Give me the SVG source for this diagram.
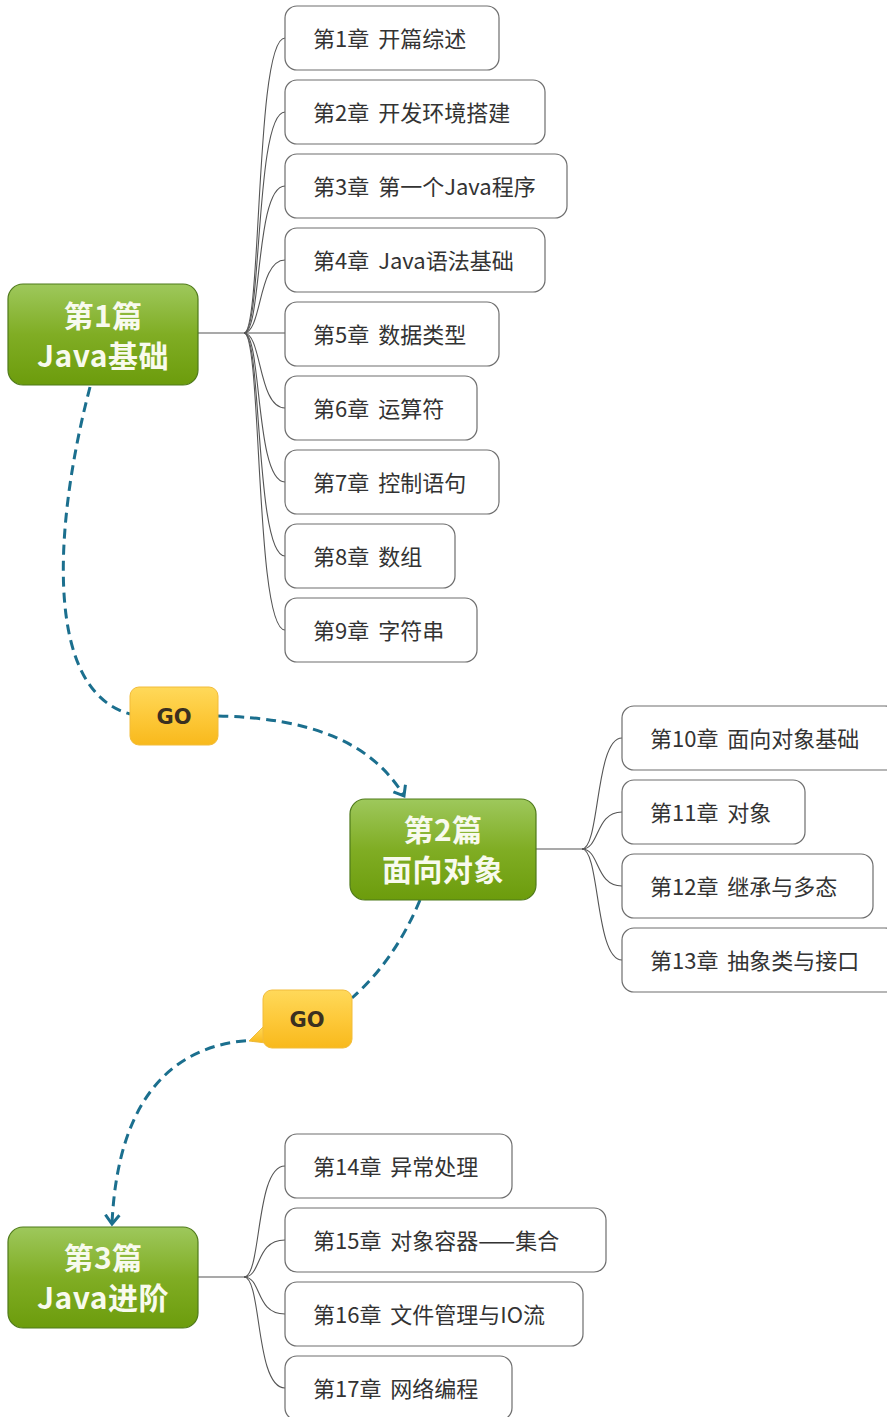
<svg xmlns="http://www.w3.org/2000/svg" width="887" height="1417" viewBox="0 0 887 1417">
<defs>
<linearGradient id="gGreen" x1="0" y1="0" x2="0" y2="1">
<stop offset="0" stop-color="#9ec85c"/>
<stop offset="0.5" stop-color="#80ad24"/>
<stop offset="1" stop-color="#6c9c0c"/>
</linearGradient>
<linearGradient id="gGold" x1="0" y1="0" x2="0" y2="1">
<stop offset="0" stop-color="#ffd95a"/>
<stop offset="0.5" stop-color="#fdc93a"/>
<stop offset="1" stop-color="#f8b91c"/>
</linearGradient>
<marker id="arr" markerUnits="userSpaceOnUse" markerWidth="20" markerHeight="20" refX="10" refY="8" orient="auto" viewBox="0 0 20 16">
<path d="M1,1 L10,8 L1,15" fill="none" stroke="#1b6f8e" stroke-width="3"/>
</marker>
<style>
.main{fill:url(#gGreen);stroke:#4f7a1a;stroke-width:1.2}
.mt{font-family:"Noto Sans CJK SC","Noto Sans",sans-serif;font-weight:bold;font-size:30px;fill:#f8faee;text-anchor:middle;letter-spacing:0.5px}
.ch{fill:#fff;stroke:#6e6e6e;stroke-width:1.2}
.ct{font-family:"Noto Sans CJK SC","Noto Sans",sans-serif;font-size:22px;fill:#333;word-spacing:4px}
.go{fill:url(#gGold);stroke:#f2bc3a;stroke-width:1}
.gt{font-family:"DejaVu Sans","Noto Sans",sans-serif;font-weight:bold;font-size:21px;fill:#3b3020;text-anchor:middle}
.br{fill:none;stroke:#555;stroke-width:1.1}
.dash{fill:none;stroke:#1b6f8e;stroke-width:3;stroke-dasharray:10 6}
</style>
</defs>
<rect width="887" height="1417" fill="#fff"/>

<g id="connectors">
<path class="br" d="M198,333 H244"/>
<path class="br" d="M244,333 C262,333 255,38 285,38"/>
<path class="br" d="M244,333 C262,333 255,112 285,112"/>
<path class="br" d="M244,333 C262,333 255,186 285,186"/>
<path class="br" d="M244,333 C262,333 258,260 285,260"/>
<path class="br" d="M244,333 H285"/>
<path class="br" d="M244,333 C262,333 258,408 285,408"/>
<path class="br" d="M244,333 C262,333 255,482 285,482"/>
<path class="br" d="M244,333 C262,333 255,556 285,556"/>
<path class="br" d="M244,333 C262,333 255,630 285,630"/>

<path class="br" d="M536,849 H582"/>
<path class="br" d="M582,849 C600,849 595,738 622,738"/>
<path class="br" d="M582,849 C600,849 595,812 622,812"/>
<path class="br" d="M582,849 C600,849 595,886 622,886"/>
<path class="br" d="M582,849 C600,849 595,960 622,960"/>

<path class="br" d="M198,1277 H244"/>
<path class="br" d="M244,1277 C262,1277 255,1166 285,1166"/>
<path class="br" d="M244,1277 C262,1277 255,1240 285,1240"/>
<path class="br" d="M244,1277 C262,1277 255,1314 285,1314"/>
<path class="br" d="M244,1277 C262,1277 255,1388 285,1388"/>

<path class="dash" d="M90,387 C55,520 42,690 130,714"/>
<path class="dash" d="M218,716 C310,718 372,742 404,796" marker-end="url(#arr)"/>
<path class="dash" d="M420,900 Q395,960 352,998"/>
<path class="dash" d="M262,1040 C180,1040 118,1090 112,1224" marker-end="url(#arr)"/>
</g>

<g id="part1">
<rect class="main" x="8" y="284" width="190" height="101" rx="15"/>
<text class="mt" x="103" y="327">第1篇</text>
<text class="mt" x="103" y="367">Java基础</text>
</g>
<g id="part2">
<rect class="main" x="350" y="799" width="186" height="101" rx="15"/>
<text class="mt" x="443" y="841">第2篇</text>
<text class="mt" x="443" y="881">面向对象</text>
</g>
<g id="part3">
<rect class="main" x="8" y="1227" width="190" height="101" rx="15"/>
<text class="mt" x="103" y="1269">第3篇</text>
<text class="mt" x="103" y="1309">Java进阶</text>
</g>

<g id="go1">
<rect class="go" x="130" y="687" width="88" height="58" rx="9"/>
<text class="gt" x="174" y="724">GO</text>
</g>
<g id="go2">
<path class="go" d="M263,1027 L249,1041 L266,1043 Z" stroke="none"/>
<rect class="go" x="263" y="990" width="89" height="58" rx="9"/>
<text class="gt" x="307" y="1027">GO</text>
</g>

<g id="ch1"><rect class="ch" x="285" y="6" width="214" height="64" rx="12"/><text class="ct" x="313" y="47">第1章 开篇综述</text></g>
<g id="ch2"><rect class="ch" x="285" y="80" width="260" height="64" rx="12"/><text class="ct" x="313" y="121">第2章 开发环境搭建</text></g>
<g id="ch3"><rect class="ch" x="285" y="154" width="282" height="64" rx="12"/><text class="ct" x="313" y="195">第3章 第一个Java程序</text></g>
<g id="ch4"><rect class="ch" x="285" y="228" width="260" height="64" rx="12"/><text class="ct" x="313" y="269">第4章 Java语法基础</text></g>
<g id="ch5"><rect class="ch" x="285" y="302" width="214" height="64" rx="12"/><text class="ct" x="313" y="343">第5章 数据类型</text></g>
<g id="ch6"><rect class="ch" x="285" y="376" width="192" height="64" rx="12"/><text class="ct" x="313" y="417">第6章 运算符</text></g>
<g id="ch7"><rect class="ch" x="285" y="450" width="214" height="64" rx="12"/><text class="ct" x="313" y="491">第7章 控制语句</text></g>
<g id="ch8"><rect class="ch" x="285" y="524" width="170" height="64" rx="12"/><text class="ct" x="313" y="565">第8章 数组</text></g>
<g id="ch9"><rect class="ch" x="285" y="598" width="192" height="64" rx="12"/><text class="ct" x="313" y="639">第9章 字符串</text></g>

<g id="ch10"><rect class="ch" x="622" y="706" width="275" height="64" rx="12"/><text class="ct" x="650" y="747">第10章 面向对象基础</text></g>
<g id="ch11"><rect class="ch" x="622" y="780" width="183" height="64" rx="12"/><text class="ct" x="650" y="821">第11章 对象</text></g>
<g id="ch12"><rect class="ch" x="622" y="854" width="251" height="64" rx="12"/><text class="ct" x="650" y="895">第12章 继承与多态</text></g>
<g id="ch13"><rect class="ch" x="622" y="928" width="275" height="64" rx="12"/><text class="ct" x="650" y="969">第13章 抽象类与接口</text></g>

<g id="ch14"><rect class="ch" x="285" y="1134" width="227" height="64" rx="12"/><text class="ct" x="313" y="1175">第14章 异常处理</text></g>
<g id="ch15"><rect class="ch" x="285" y="1208" width="321" height="64" rx="12"/><text class="ct" x="313" y="1249">第15章 对象容器——集合</text></g>
<g id="ch16"><rect class="ch" x="285" y="1282" width="298" height="64" rx="12"/><text class="ct" x="313" y="1323">第16章 文件管理与IO流</text></g>
<g id="ch17"><rect class="ch" x="285" y="1356" width="227" height="64" rx="12"/><text class="ct" x="313" y="1397">第17章 网络编程</text></g>
</svg>
